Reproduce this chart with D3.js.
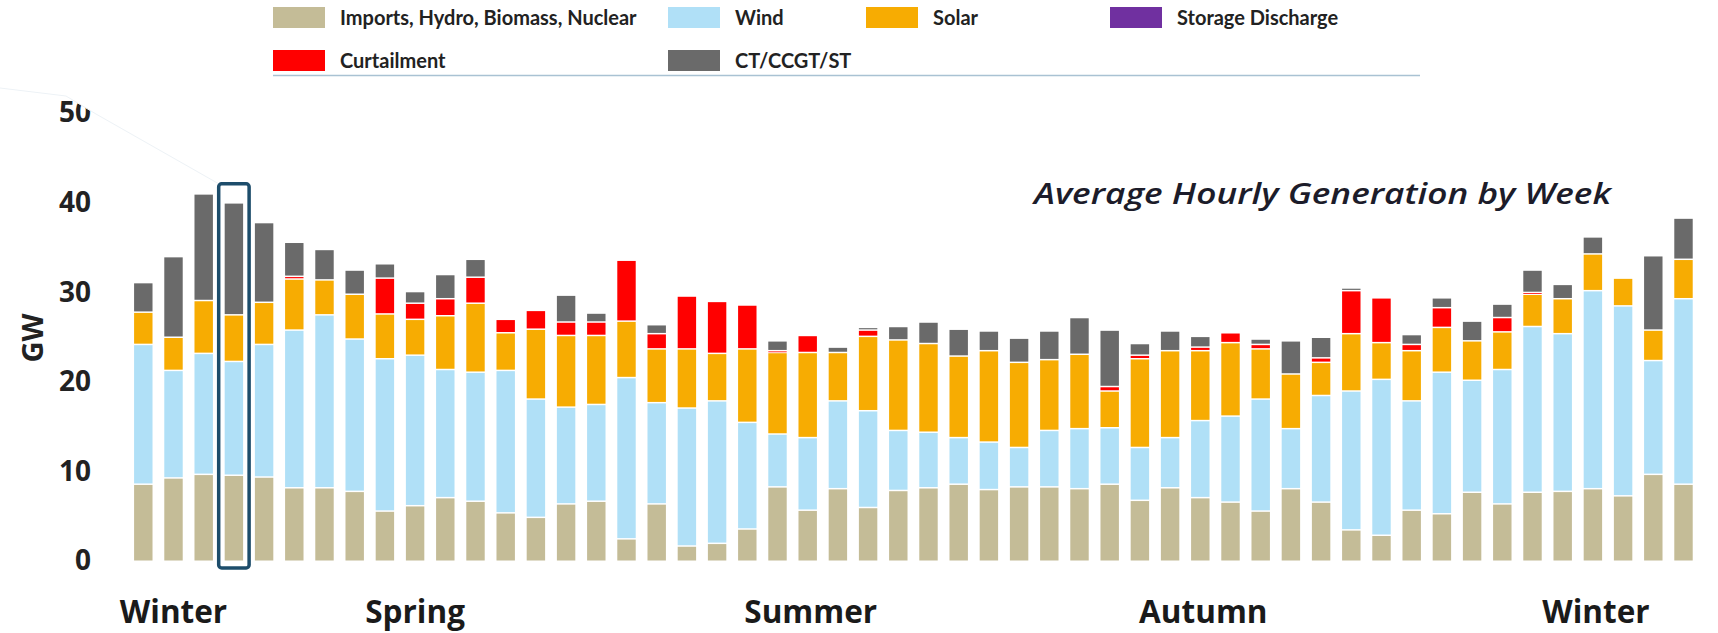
<!DOCTYPE html>
<html>
<head>
<meta charset="utf-8">
<script src="https://cdn.jsdelivr.net/npm/d3@7"></script>
<style>
  body { margin: 0; background: #fff; }
  svg { display: block; }
</style>
</head>
<body>
<div id="wrapper"></div>
<script>
// weekly averages, GW
var weeks = d3.range(1, 53)
var imports = [8.6, 9.3, 9.7, 9.6, 9.4, 8.2, 8.2, 7.8, 5.6, 6.2, 7.1, 6.7, 5.4, 4.9, 6.4, 6.7, 2.5, 6.4, 1.7, 2.0, 3.6, 8.3, 5.7, 8.1, 6.0, 7.9,
               8.2, 8.6, 8.0, 8.3, 8.3, 8.1, 8.6, 6.8, 8.2, 7.1, 6.6, 5.6, 8.1, 6.6, 3.5, 2.9, 5.7, 5.3, 7.7, 6.4, 7.7, 7.8, 8.1, 7.3, 9.7, 8.6]
var wind = [15.6, 12.0, 13.5, 12.7, 14.8, 17.6, 19.3, 17.0, 17.0, 16.8, 14.3, 14.4, 15.9, 13.2, 10.8, 10.8, 18.0, 11.3, 15.4, 15.9, 11.9, 5.9, 8.1, 9.8, 10.8, 6.7,
            6.2, 5.2, 5.3, 4.4, 6.3, 6.7, 6.3, 5.9, 5.6, 8.6, 9.6, 12.5, 6.7, 11.9, 15.5, 17.4, 12.2, 15.8, 12.5, 15.0, 18.5, 17.6, 22.1, 21.2, 12.7, 20.7]
var solar = [3.6, 3.7, 5.9, 5.2, 4.7, 5.7, 3.9, 5.0, 5.0, 4.0, 6.0, 7.7, 4.2, 7.8, 8.0, 7.7, 6.3, 6.0, 6.6, 5.3, 8.2, 9.1, 9.5, 5.4, 8.3, 10.1,
             9.9, 9.1, 10.2, 9.5, 7.9, 8.3, 4.1, 9.9, 9.7, 7.8, 8.2, 5.6, 6.1, 3.7, 6.4, 4.1, 5.6, 5.0, 4.4, 4.2, 3.6, 3.9, 4.1, 3.1, 3.4, 4.4]
var storage = [0, 0, 0, 0, 0, 0, 0, 0, 0, 0, 0, 0, 0, 0, 0, 0, 0, 0, 0, 0, 0, 0, 0, 0, 0, 0,
               0, 0, 0, 0, 0, 0, 0, 0, 0, 0, 0, 0, 0, 0, 0, 0, 0, 0, 0, 0, 0, 0, 0, 0, 0, 0]
var curtailment = [0, 0, 0, 0, 0, 0.3, 0, 0, 4.0, 1.8, 1.9, 2.9, 1.5, 2.1, 1.5, 1.5, 6.8, 1.7, 5.9, 5.8, 4.9, 0.2, 1.9, 0, 0.7, 0,
                   0, 0, 0, 0, 0, 0, 0.5, 0.4, 0, 0.4, 1.1, 0.5, 0, 0.5, 4.8, 5.0, 0.7, 2.2, 0, 1.6, 0.2, 0, 0, 0, 0, 0]
var thermal = [3.3, 9.0, 11.9, 12.5, 8.9, 3.8, 3.4, 2.7, 1.6, 1.3, 2.7, 2.0, 0, 0, 3.0, 1.0, 0, 1.0, 0, 0, 0, 1.1, 0, 0.6, 0.3, 1.5,
               2.4, 3.0, 2.2, 2.7, 3.2, 4.1, 6.3, 1.3, 2.2, 1.2, 0, 0.6, 3.7, 2.3, 0.3, 0, 1.1, 1.1, 2.2, 1.5, 2.5, 1.6, 1.9, 0, 8.3, 4.6]

var seriesNames = ["Imports, Hydro, Biomass, Nuclear", "Wind", "Solar", "Storage Discharge", "Curtailment", "CT/CCGT/ST"]
var seriesColors = ["#c4bc97", "#b0e0f7", "#f7ac02", "#7030a0", "#ff0000", "#6a6a6a"]
var yTicks = [0, 10, 20, 30, 40, 50]
var seasons = ["Winter", "Spring", "Summer", "Autumn", "Winter"]
var seasonWeeks = [2.0, 10.0, 23.1, 36.1, 49.1]
var highlightWeek = 4

var W = 1718, H = 633

var keys = ["imports", "wind", "solar", "storage", "curtailment", "thermal"]
var table = weeks.map((w, i) => ({
    week: w,
    imports: imports[i],
    wind: wind[i],
    solar: solar[i],
    storage: storage[i],
    curtailment: curtailment[i],
    thermal: thermal[i]
}))

var stacked = d3.stack().keys(keys)(table)

var svg = d3.select("#wrapper")
    .append("svg")
    .attr("width", W)
    .attr("height", H)
    .attr("viewBox", "0 0 " + W + " " + H)

var xScale = d3.scaleBand()
    .domain(weeks)
    .range([128.2, 1698.6])
    .paddingInner(0.39)
    .paddingOuter(0.195)

var yScale = d3.scaleLinear()
    .domain([0, 50])
    .range([561, 113])

// bars
var layers = svg.append("g")
    .selectAll("g")
    .data(stacked)
    .join("g")
    .attr("fill", (d, i) => seriesColors[i])

layers.selectAll("rect")
    .data(d => d.filter(s => s[1] - s[0] > 0))
    .join("rect")
    .attr("x", d => xScale(d.data.week))
    .attr("width", xScale.bandwidth())
    .attr("y", d => yScale(d[1]) + 1)
    .attr("height", d => Math.max(0.8, yScale(d[0]) - yScale(d[1]) - 1.5))

// y axis labels
var yAxis = svg.append("g")
    .attr("transform", "translate(91,0)")
    .call(d3.axisLeft(yScale).tickValues(yTicks).tickSize(0).tickPadding(0))
yAxis.select(".domain").remove()
yAxis.selectAll("text")
    .attr("font-family", "Open Sans")
    .attr("font-weight", 700)
    .attr("font-size", 28)
    .attr("fill", "#222")

// white callout wedge from the highlighted week, it clips the top label
var hx = xScale(highlightWeek)
var boxTop = yScale(42.1)
svg.append("path")
    .attr("d", "M0,82 L0,88 L66,96 L96,114 L" + (hx - 6) + "," + boxTop + " L" + (hx + 4) + "," + (boxTop - 12) + " L400,82 Z")
    .attr("fill", "#fff")
svg.append("path")
    .attr("d", "M0,88 L66,96 L96,114 L" + (hx - 6) + "," + boxTop)
    .attr("fill", "none")
    .attr("stroke", "#edf2f6")
    .attr("stroke-width", 1)

// highlight box round one week
svg.append("rect")
    .attr("x", hx - 6)
    .attr("y", boxTop)
    .attr("width", xScale.bandwidth() + 12)
    .attr("height", yScale(0) - boxTop + 7)
    .attr("rx", 3)
    .attr("fill", "none")
    .attr("stroke", "#1d4d6b")
    .attr("stroke-width", 3.5)

svg.append("text")
    .attr("transform", "translate(43,338) rotate(-90)")
    .attr("text-anchor", "middle")
    .attr("font-family", "Open Sans")
    .attr("font-weight", 700)
    .attr("font-size", 29)
    .attr("fill", "#222")
    .text("GW")

// season labels
svg.append("g")
    .selectAll("text")
    .data(seasons)
    .join("text")
    .attr("x", (d, i) => xScale(1) + xScale.bandwidth() / 2 + (seasonWeeks[i] - 1) * xScale.step())
    .attr("y", 623)
    .attr("text-anchor", "middle")
    .attr("font-family", "Open Sans")
    .attr("font-weight", 700)
    .attr("font-size", 31.5)
    .attr("fill", "#1a1a1a")
    .text(d => d)

// title
svg.append("text")
    .attr("x", 1034)
    .attr("y", 204)
    .attr("font-family", "Open Sans")
    .attr("font-style", "italic")
    .attr("font-weight", 600)
    .attr("font-size", 28)
    .attr("fill", "#1c1c2a")
    .attr("textLength", 577)
    .attr("lengthAdjust", "spacingAndGlyphs")
    .text("Average Hourly Generation by Week")

// legend
var legendX = [273, 668, 866, 1110, 273, 668]
var legendY = [7, 7, 7, 7, 50, 50]
var legend = svg.append("g")
    .selectAll("g")
    .data(seriesNames)
    .join("g")
    .attr("transform", (d, i) => "translate(" + legendX[i] + "," + legendY[i] + ")")

legend.append("rect")
    .attr("width", 52)
    .attr("height", 21)
    .attr("fill", (d, i) => seriesColors[i])

legend.append("text")
    .attr("x", 67)
    .attr("y", 17.5)
    .attr("font-family", "Lato")
    .attr("font-weight", 700)
    .attr("font-size", 20)
    .attr("fill", "#222")
    .text(d => d)

svg.append("line")
    .attr("x1", 273).attr("x2", 1420)
    .attr("y1", 75.5).attr("y2", 75.5)
    .attr("stroke", "#a9c2d3")
    .attr("stroke-width", 1.5)
</script>
</body>
</html>
